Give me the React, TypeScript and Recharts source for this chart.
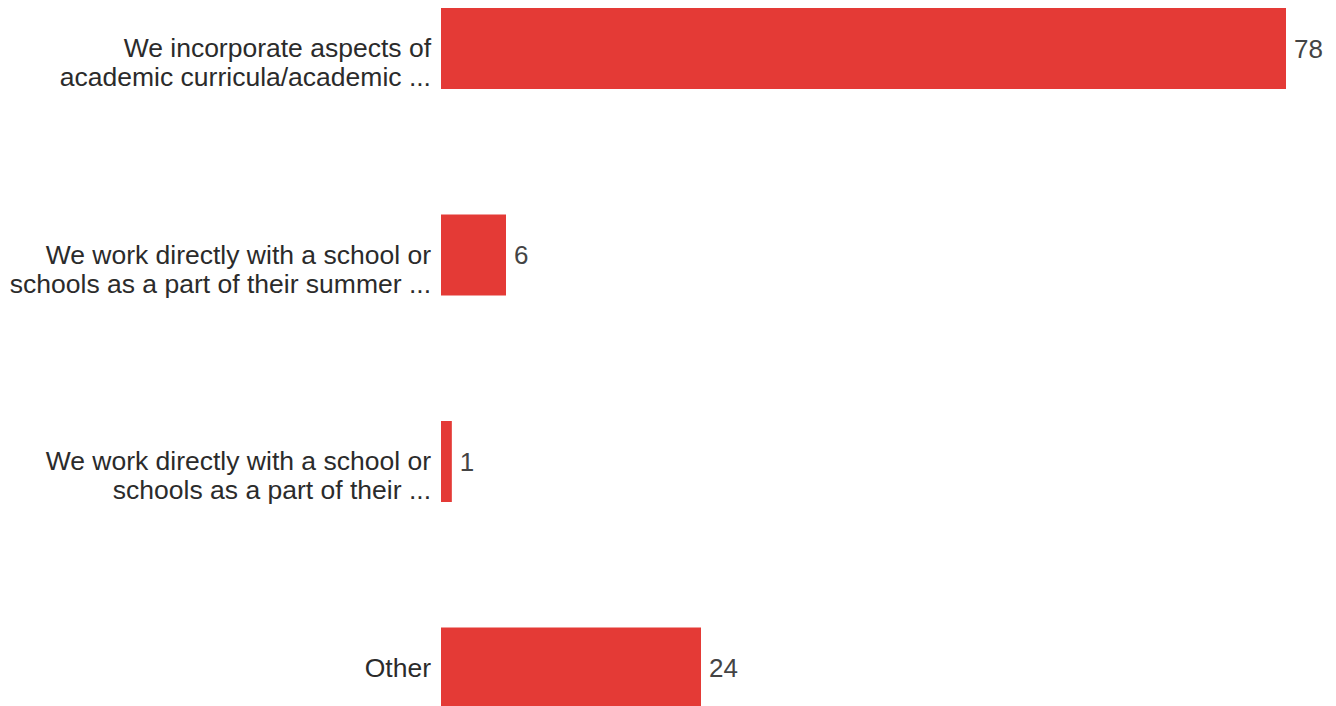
import React from 'react'
import { BarChart, Bar, XAxis, YAxis, LabelList } from 'recharts'

const categories = [
  'We incorporate aspects of\nacademic curricula/academic ...',
  'We work directly with a school or\nschools as a part of their summer ...',
  'We work directly with a school or\nschools as a part of their ...',
  'Other'
]
const counts = [78, 6, 1, 24]

const data = categories.map((name, i) => ({ name, count: counts[i] }))

const FONT = '"Liberation Sans", Arial, Helvetica, sans-serif'

// first line sits on the bar centre, the rest drop below it
function CategoryTick(props: any) {
  const { x, y, payload } = props
  const lines = String(payload.value).split('\n')
  const lh = 29
  return (
    <g>
      {lines.map((line: string, i: number) => (
        <text
          key={i}
          x={x - 2}
          y={y + i * lh}
          textAnchor="end"
          dominantBaseline="central"
          fill="#2b2b2b"
          fontSize={26.5}
          fontFamily={FONT}
        >
          {line}
        </text>
      ))}
    </g>
  )
}

export default function App() {
  return (
    <div style={{ position: 'absolute', left: 0, top: 0, width: 1336, height: 706, overflow: 'hidden', background: '#fff' }}>
      <div style={{ marginTop: -55 }}>
        <BarChart
          width={1336}
          height={826}
          data={data}
          layout="vertical"
          margin={{ top: 0, right: 50, left: 0, bottom: 0 }}
        >
          <XAxis type="number" domain={[0, 78]} hide />
          <YAxis
            type="category"
            dataKey="name"
            width={441}
            axisLine={false}
            tickLine={false}
            tick={<CategoryTick />}
            interval={0}
          />
          <Bar dataKey="count" fill="#e43a36" barSize={81} isAnimationActive={false}>
            <LabelList
              dataKey="count"
              position="right"
              offset={8}
              fill="#444"
              fontSize={26}
              fontFamily={FONT}
            />
          </Bar>
        </BarChart>
      </div>
    </div>
  )
}
